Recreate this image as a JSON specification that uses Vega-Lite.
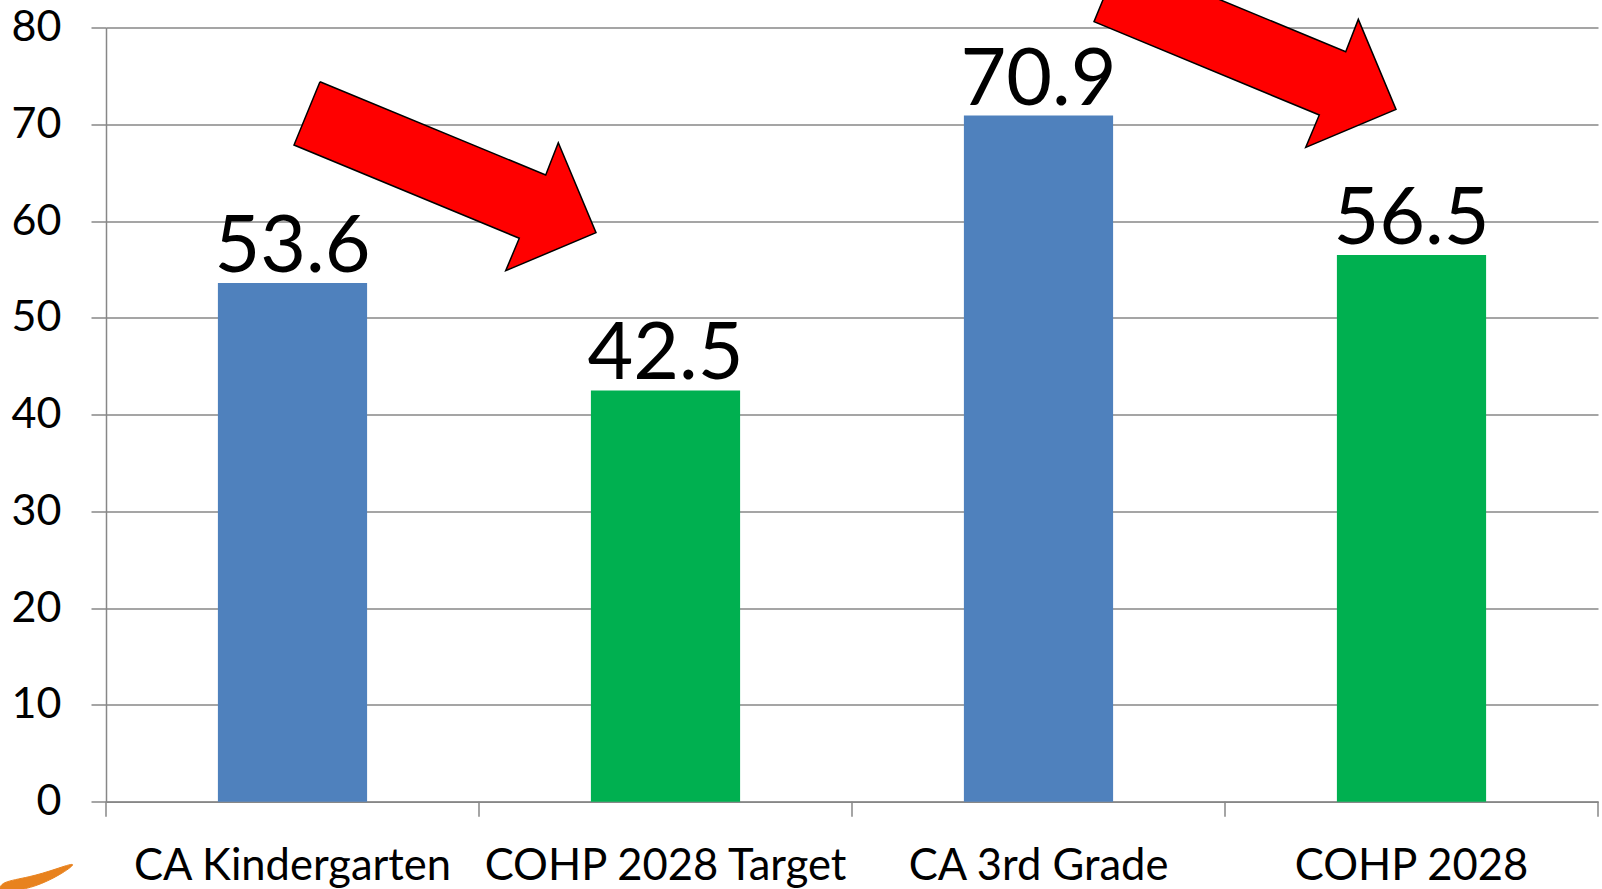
{
  "$schema": "https://vega.github.io/schema/vega-lite/v6.json",
  "width": 1492,
  "height": 774.2,
  "autosize": {"type": "none"},
  "padding": {"left": 106, "top": 27.5, "right": 4, "bottom": 87.3},
  "background": "white",
  "config": {
    "view": {"stroke": null},
    "font": "Lato"
  },
  "datasets": {
    "bars": [
      {"category": "CA Kindergarten", "value": 53.6, "group": "CA"},
      {"category": "COHP 2028  Target", "value": 42.5, "group": "COHP"},
      {"category": "CA 3rd Grade", "value": 70.9, "group": "CA"},
      {"category": "COHP 2028", "value": 56.5, "group": "COHP"}
    ],
    "ticks": [
      {"pos": 0, "value": 0, "low": -1.55},
      {"pos": 1, "value": 0, "low": -1.55},
      {"pos": 2, "value": 0, "low": -1.55},
      {"pos": 3, "value": 0, "low": -1.55},
      {"pos": 4, "value": 0, "low": -1.55}
    ],
    "arrows": [
      {"arrow": 1, "ord": 1, "pos": 0.5737, "value": 74.40},
      {"arrow": 1, "ord": 2, "pos": 1.1788, "value": 64.76},
      {"arrow": 1, "ord": 3, "pos": 1.2126, "value": 68.10},
      {"arrow": 1, "ord": 4, "pos": 1.3137, "value": 58.80},
      {"arrow": 1, "ord": 5, "pos": 1.0716, "value": 54.87},
      {"arrow": 1, "ord": 6, "pos": 1.1080, "value": 58.22},
      {"arrow": 1, "ord": 7, "pos": 0.5040, "value": 67.86},
      {"arrow": 1, "ord": 8, "pos": 0.5737, "value": 74.40},
      {"arrow": 2, "ord": 1, "pos": 2.7185, "value": 87.14},
      {"arrow": 2, "ord": 2, "pos": 3.3236, "value": 77.50},
      {"arrow": 2, "ord": 3, "pos": 3.3574, "value": 80.84},
      {"arrow": 2, "ord": 4, "pos": 3.4585, "value": 71.54},
      {"arrow": 2, "ord": 5, "pos": 3.2164, "value": 67.61},
      {"arrow": 2, "ord": 6, "pos": 3.2528, "value": 70.96},
      {"arrow": 2, "ord": 7, "pos": 2.6488, "value": 80.60},
      {"arrow": 2, "ord": 8, "pos": 2.7185, "value": 87.14}
    ],
    "swoosh": [
      {"ord": 1, "pos": -0.2842, "value": -9.2},
      {"ord": 2, "pos": -0.2842, "value": -8.3},
      {"ord": 3, "pos": -0.2038, "value": -7.8},
      {"ord": 4, "pos": -0.1367, "value": -7.0},
      {"ord": 5, "pos": -0.0697, "value": -6.1},
      {"ord": 6, "pos": -0.1233, "value": -7.6},
      {"ord": 7, "pos": -0.1903, "value": -8.8},
      {"ord": 8, "pos": -0.2440, "value": -9.2}
    ]
  },
  "layer": [
    {
      "data": {"name": "bars"},
      "layer": [
        {
          "mark": {"type": "bar"},
          "encoding": {
            "x": {
              "field": "category",
              "type": "nominal",
              "sort": null,
              "scale": {"paddingInner": 0.6, "paddingOuter": 0.3},
              "axis": {
                "title": null,
                "labelAngle": 0,
                "labelFont": "Lato",
                "labelFontSize": 43.5,
                "labelColor": "#000000",
                "labelBaseline": "alphabetic",
                "labelPadding": 78,
                "labelLimit": 0,
                "ticks": false,
                "domainColor": "#878787",
                "domainWidth": 1.5,
                "grid": false
              }
            },
            "y": {
              "field": "value",
              "type": "quantitative",
              "scale": {"domain": [0, 80], "nice": false},
              "axis": {
                "title": null,
                "values": [0, 10, 20, 30, 40, 50, 60, 70, 80],
                "labelFont": "Lato",
                "labelFontSize": 43,
                "labelColor": "#000000",
                "labelPadding": 30,
                "tickSize": 15,
                "tickColor": "#878787",
                "tickWidth": 1.5,
                "domainColor": "#878787",
                "domainWidth": 1.5,
                "grid": true,
                "gridColor": "#878787",
                "gridWidth": 1.5
              }
            },
            "color": {
              "field": "group",
              "type": "nominal",
              "scale": {"domain": ["CA", "COHP"], "range": ["#4F81BD", "#00B050"]},
              "legend": null
            }
          }
        },
        {
          "mark": {"type": "text", "baseline": "alphabetic", "align": "center", "dy": -11, "fontSize": 79, "font": "Lato", "color": "#000000"},
          "encoding": {
            "x": {"field": "category", "type": "nominal", "sort": null},
            "y": {"field": "value", "type": "quantitative", "scale": {"domain": [0, 80], "nice": false}},
            "text": {"field": "value", "type": "quantitative", "format": ".1f"}
          }
        }
      ]
    },
    {
      "layer": [
        {
          "data": {"name": "ticks"},
          "mark": {"type": "rule", "color": "#878787", "strokeWidth": 1.5},
          "encoding": {
            "x": {"field": "pos", "type": "quantitative", "scale": {"domain": [0, 4], "nice": false, "zero": false}, "axis": null},
            "y": {"field": "value", "type": "quantitative", "scale": {"domain": [0, 80], "nice": false}},
            "y2": {"field": "low"}
          }
        },
        {
          "data": {"name": "arrows"},
          "mark": {"type": "line", "fill": "#FF0000", "stroke": "#000000", "strokeWidth": 1.5, "strokeJoin": "miter", "interpolate": "linear"},
          "encoding": {
            "x": {"field": "pos", "type": "quantitative", "scale": {"domain": [0, 4], "nice": false, "zero": false}, "axis": null},
            "y": {"field": "value", "type": "quantitative", "scale": {"domain": [0, 80], "nice": false}},
            "order": {"field": "ord", "type": "quantitative"},
            "detail": {"field": "arrow", "type": "nominal"}
          }
        },
        {
          "data": {"name": "swoosh"},
          "mark": {"type": "line", "fill": "#E8821E", "stroke": "#E8821E", "strokeWidth": 1, "interpolate": "basis"},
          "encoding": {
            "x": {"field": "pos", "type": "quantitative", "scale": {"domain": [0, 4], "nice": false, "zero": false}, "axis": null},
            "y": {"field": "value", "type": "quantitative", "scale": {"domain": [0, 80], "nice": false}},
            "order": {"field": "ord", "type": "quantitative"}
          }
        }
      ]
    }
  ],
  "resolve": {"scale": {"x": "independent"}}
}
